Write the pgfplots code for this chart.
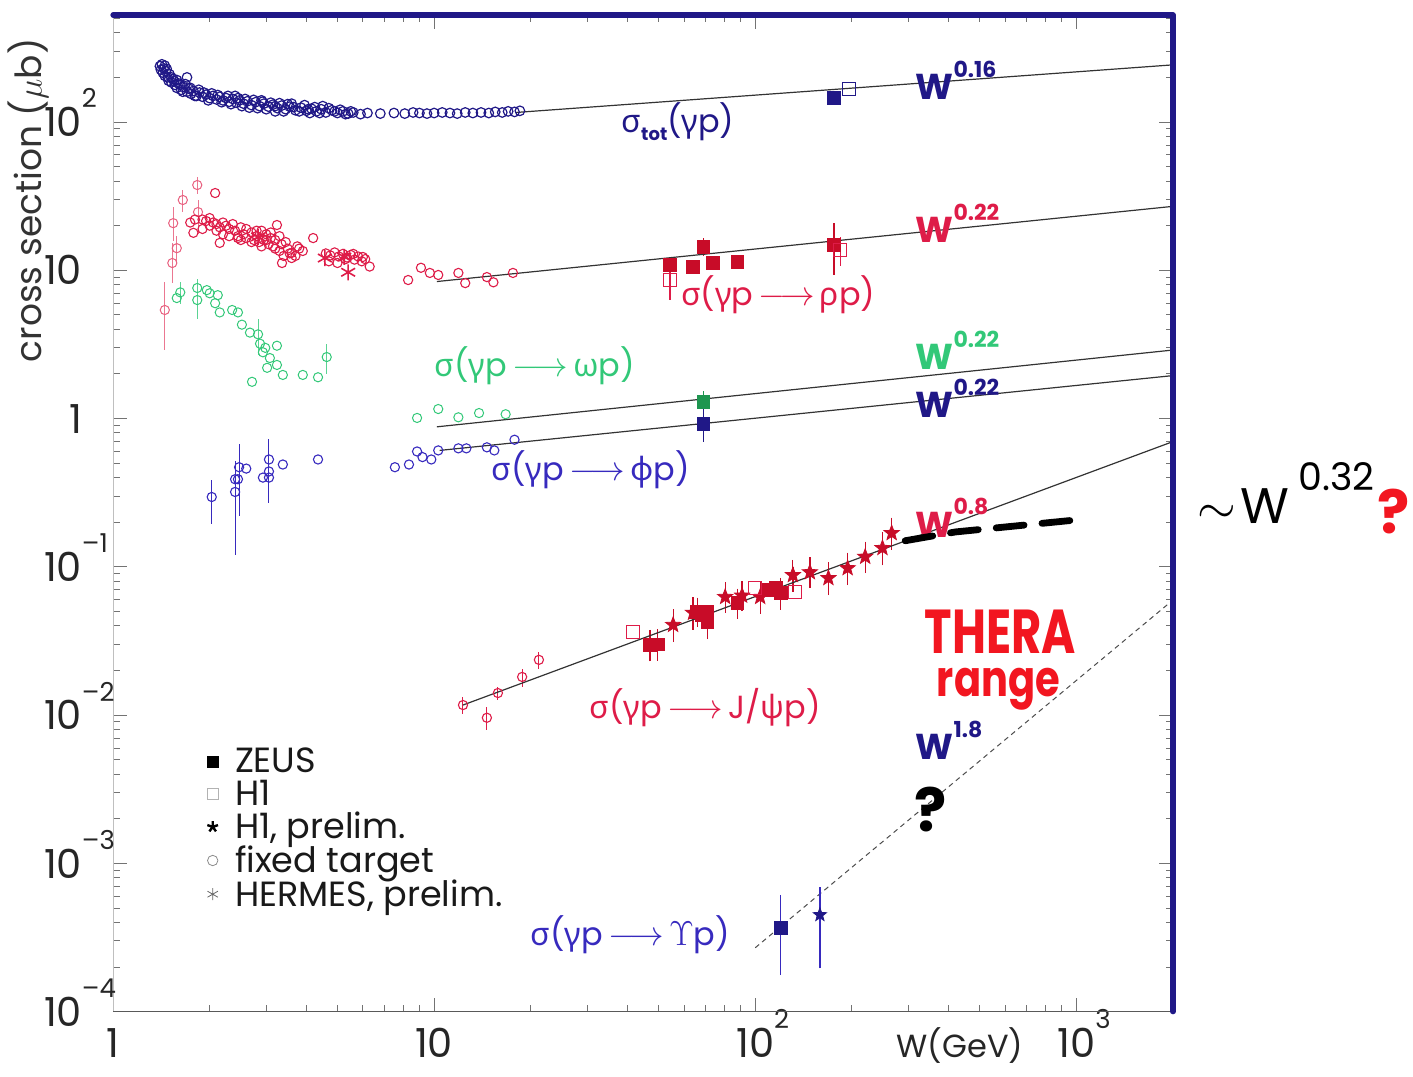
\documentclass[border=0pt]{standalone}
\usepackage{fontspec}
\usepackage{pgfplots}
\pgfplotsset{compat=1.18}
\setmainfont{Poppins}
\newfontfamily\grk{Noto Sans}

\definecolor{navy}{RGB}{32,24,135}
\definecolor{phiblue}{RGB}{55,42,190}
\definecolor{rhored}{RGB}{222,28,72}
\definecolor{zeusred}{RGB}{200,12,40}
\definecolor{omgreen}{RGB}{50,200,120}
\definecolor{omzeus}{RGB}{30,150,80}
\definecolor{thera}{RGB}{242,22,32}

% filled five-pointed star
\pgfdeclareplotmark{fstar}{%
  \pgfpathmoveto{\pgfpointpolar{90}{\pgfplotmarksize}}%
  \pgfpathlineto{\pgfpointpolar{126}{0.42\pgfplotmarksize}}%
  \pgfpathlineto{\pgfpointpolar{162}{\pgfplotmarksize}}%
  \pgfpathlineto{\pgfpointpolar{198}{0.42\pgfplotmarksize}}%
  \pgfpathlineto{\pgfpointpolar{234}{\pgfplotmarksize}}%
  \pgfpathlineto{\pgfpointpolar{270}{0.42\pgfplotmarksize}}%
  \pgfpathlineto{\pgfpointpolar{306}{\pgfplotmarksize}}%
  \pgfpathlineto{\pgfpointpolar{342}{0.42\pgfplotmarksize}}%
  \pgfpathlineto{\pgfpointpolar{18}{\pgfplotmarksize}}%
  \pgfpathlineto{\pgfpointpolar{54}{0.42\pgfplotmarksize}}%
  \pgfpathclose\pgfusepathqfillstroke}

% 10 with a hanging exponent, so that the mantissa stays centred on the tick
\newcommand{\tp}[1]{10\rlap{\smash{\raisebox{0.72em}{\fontsize{13}{13}\selectfont #1}}}}
% power-law labels
\newcommand{\Wp}[1]{\textbf{W}\raisebox{0.62em}{\fontsize{11}{11}\selectfont\bfseries #1}}
% reaction labels
\newcommand{\reac}[1]{{\grk σ}({\grk γ}p\,$\longrightarrow$\,#1p)}

\begin{document}
\begin{tikzpicture}
\begin{axis}[
  name=ax,
  xmode=log, ymode=log,
  scale only axis, width=530pt, height=498.35pt,
  xmin=1, xmax=2000, ymin=1e-4, ymax=527,
  clip=false,
  axis line style={draw=black!25, line width=0.4pt},
  tick style={draw=black!55, line width=0.5pt},
  major tick length=7pt, minor tick length=3.5pt,
  xtick={1,10,100,1000},
  xticklabels={1,10,\tp{2},\tp{3}},
  minor xtick={2,3,4,5,6,7,8,9,20,30,40,50,60,70,80,90,200,300,400,500,600,700,800,900},
  ytick={1e-4,1e-3,1e-2,1e-1,1,10,100},
  yticklabels={\tp{–4},\tp{–3},\tp{–2},\tp{–1},1,10,\tp{2}},
  minor ytick={2e-4,3e-4,4e-4,5e-4,6e-4,7e-4,8e-4,9e-4,
    2e-3,3e-3,4e-3,5e-3,6e-3,7e-3,8e-3,9e-3,
    0.02,0.03,0.04,0.05,0.06,0.07,0.08,0.09,
    0.2,0.3,0.4,0.5,0.6,0.7,0.8,0.9,
    2,3,4,5,6,7,8,9,20,30,40,50,60,70,80,90,200,300,400,500},
  xticklabel style={anchor=base, yshift=-23pt, font=\fontsize{20}{22}\selectfont, text=black!85},
  yticklabel style={anchor=east, xshift=-12pt, font=\fontsize{20}{22}\selectfont, text=black!85},
  legend style={at={(0.083,0.272)}, anchor=north west, draw=none, fill=none,
    font=\fontsize{17.5}{18}\selectfont, row sep=-1pt,
    nodes={inner sep=1.5pt}, text=black!90,
    /tikz/every odd column/.append style={column sep=7pt}},
  legend cell align=left,
  legend image code/.code={\draw[#1] plot coordinates {(0.15cm,0cm)};},
]

% ---- legend symbols
\addlegendimage{only marks, mark=square*, mark size=2.6pt, black}
\addlegendentry{ZEUS}
\addlegendimage{only marks, mark=square, mark size=2.6pt, black!30}
\addlegendentry{H1}
\addlegendimage{only marks, mark=star, mark size=2.8pt, black, line width=1.2pt}
\addlegendentry{H1, prelim.}
\addlegendimage{only marks, mark=o, mark size=2.6pt, black!45}
\addlegendentry{fixed target}
\addlegendimage{only marks, mark=asterisk, mark size=3pt, black!60}
\addlegendentry{HERMES, prelim.}

% ---- total cross section
\addplot[only marks, mark=o, mark size=2.4pt, navy, line width=0.6pt, forget plot] coordinates {
(1.40,238) (1.41,225) (1.42,245) (1.43,215) (1.44,230) (1.45,205) (1.46,220) (1.48,200)
(1.49,190) (1.50,210) (1.52,185) (1.54,195) (1.56,178) (1.58,170) (1.60,182) (1.63,165)
(1.66,172) (1.70,160) (1.70,200) (1.72,168) (1.75,155) (1.78,162) (1.82,150) (1.86,158) (1.90,148)
(1.95,153) (2.00,145) (2.05,150) (2.10,142) (2.15,148) (2.20,140) (2.25,145) (2.30,137)
(2.36,143) (2.40,150) (2.42,135) (2.48,140) (2.55,133) (2.62,138) (2.70,130) (2.78,136)
(2.86,128) (2.90,140) (2.95,133) (3.05,127) (3.15,131) (3.20,118) (3.25,124) (3.35,129)
(3.45,122) (3.55,127) (3.60,133) (3.70,120) (3.85,125) (4.00,119) (4.10,115) (4.15,123)
(4.30,118) (4.45,122) (4.50,128) (4.60,116) (4.80,120) (5.00,115) (5.20,118) (5.40,114)
(5.60,116) (5.90,113) (6.20,115) (6.80,114) (7.5,115) (8.1,114) (8.6,116) (9.0,115)
(9.5,114) (10.0,115) (10.6,116) (11.2,115) (11.8,114) (12.5,116) (13.2,115) (14.0,116)
(14.8,115) (15.5,117) (16.3,116) (17.0,118) (17.8,117) (18.5,119)
(1.45,240) (1.47,228) (1.52,200) (1.55,188) (1.58,192) (1.62,178) (1.65,160) (1.68,180)
(1.74,170) (1.80,150) (1.85,165) (1.92,158) (1.98,140) (2.03,156) (2.12,152) (2.18,136)
(2.28,150) (2.33,132) (2.45,145) (2.52,128) (2.58,143) (2.66,125) (2.74,141) (2.82,124)
(2.92,137) (3.0,122) (3.1,135) (3.2,128) (3.3,134) (3.4,118) (3.5,132) (3.65,126)
(3.8,118) (3.95,130) (4.05,122) (4.25,126) (4.4,115) (4.7,124) (4.9,118) (5.1,121)
(5.3,113) (5.5,118)
};
\addplot[only marks, mark=square*, mark size=3.2pt, navy, forget plot] coordinates {(176,145)};
\addplot[only marks, mark=square, mark size=3.2pt, navy, line width=0.6pt, forget plot] coordinates {(196,167)};
\addplot[black!80, line width=0.6pt, forget plot] coordinates {(18,116) (2000,243)};

% ---- rho
\addplot[only marks, mark=o, mark size=2.3pt, rhored!70, line width=0.5pt, forget plot,
  error bars/.cd, y dir=both, y explicit, error mark=none,
  error bar style={rhored!60, line width=0.5pt}] coordinates {
(1.45,5.4) += (0,3) -= (0,2.5)
(1.53,11.2) += (0,4) -= (0,3)
(1.54,20.8) += (0,6) -= (0,5)
(1.58,14.1) += (0,3) -= (0,3)
(1.65,29.8) += (0,5) -= (0,5)
(1.84,24.7) += (0,5) -= (0,7)
(1.83,37.6) += (0,5) -= (0,5)
};
\addplot[only marks, mark=o, mark size=2.3pt, rhored, line width=0.55pt, forget plot] coordinates {
(2.08,33.2) (1.78,17.9) (1.74,21) (1.80,22) (1.90,22) (1.95,21.5) (2.0,22.5) (2.05,21)
(2.1,20.5) (2.15,19.5) (2.2,17.5) (2.25,20) (2.3,19) (2.36,20.5) (2.4,18.5) (2.45,17)
(2.5,19.5) (2.55,17.5) (2.6,16.5) (2.7,18) (2.75,16) (2.8,17) (2.85,15.5) (2.9,18.5)
(2.95,16) (3.0,17.5) (3.05,15) (3.1,16.5) (3.15,14.5) (3.2,16) (3.3,13.5) (3.35,15)
(3.4,12.5) (3.5,14) (3.6,13.1) (3.75,14.5) (3.9,13.5) (2.15,15.3) (2.45,16.5) (3.24,20.2)
(3.36,11.2) (3.6,12.1) (4.2,16.5)
(1.9,19) (2.0,20) (2.1,18.5) (2.2,21) (2.3,17) (2.5,16) (2.6,19) (2.7,15.5) (2.8,18.5)
(2.9,14.5) (3.0,16) (3.1,18) (3.2,14) (3.3,17) (3.45,15.5) (3.55,13) (3.7,12.5) (3.8,14)
(4.6,13.0) (4.75,12.6) (4.9,13.2) (5.05,12.4) (5.2,12.9) (5.35,12.2) (5.5,12.7)
(5.65,11.8) (5.8,12.4) (5.95,11.5) (6.1,11.9) (6.3,10.6)
(4.7,11.5) (5.0,11.2) (5.3,11.9) (5.6,12.9) (6.0,12.3)
(8.3,8.6) (9.1,10.4) (9.7,9.6) (10.3,9.3) (11.9,9.6) (12.5,8.2) (14.6,9.0) (15.3,8.3) (17.6,9.6)
};
\addplot[only marks, mark=asterisk, mark size=4pt, rhored, line width=0.8pt, forget plot] coordinates {
(2.83,16.8) (4.57,12.1) (5.25,12.3) (5.4,9.7)
};
\addplot[only marks, mark=square*, mark size=3.2pt, zeusred, forget plot,
  error bars/.cd, y dir=both, y explicit, error mark=none,
  error bar style={zeusred, line width=0.6pt}] coordinates {
(54.3,10.9) (64,10.6) (69,14.4) += (0,2) -= (0,2) (74,11.2) (88,11.4)
(176,14.8) += (0,6) -= (0,5.5)
};
\addplot[only marks, mark=square, mark size=3.2pt, rhored, line width=0.6pt, forget plot,
  error bars/.cd, y dir=both, y explicit, error mark=none,
  error bar style={rhored, line width=0.6pt}] coordinates {
(54.3,8.6) += (0,2) -= (0,2.3) (184,13.7) += (0,3) -= (0,3)
};
\addplot[black!80, line width=0.6pt, forget plot] coordinates {(10.2,8.4) (2000,27)};

% ---- omega
\addplot[only marks, mark=o, mark size=2.3pt, omgreen, line width=0.5pt, forget plot,
  error bars/.cd, y dir=both, y explicit, error mark=none,
  error bar style={omgreen!80, line width=0.5pt}] coordinates {
(1.62,7.1) += (0,1.2) -= (0,1.2) (1.58,6.5) (1.83,7.6) += (0,1.2) -= (0,1.2)
(1.83,6.3) += (0,1.5) -= (0,1.6) (1.96,7.35) (2.0,7.0) (2.12,6.8) (2.08,6.0) (2.15,5.2)
(2.35,5.4) (2.45,5.2) (2.52,4.3) (2.67,3.8) (2.83,3.7) += (0,1) -= (0,1)
(2.87,3.2) (2.93,2.8) (2.98,3.0) (3.08,2.56) (3.24,3.1) (3.24,2.3) (3.02,2.2)
(3.38,1.97) (2.71,1.77) (3.9,1.97) (4.35,1.9) (4.63,2.6) += (0,0.6) -= (0,0.6)
(8.85,1.01) (10.3,1.16) (11.9,1.02) (13.8,1.09) (16.7,1.07)
};
\addplot[only marks, mark=square*, mark size=3.2pt, omzeus, forget plot,
  error bars/.cd, y dir=both, y explicit, error mark=none,
  error bar style={omzeus, line width=0.6pt}] coordinates {(69,1.29) += (0,0.25) -= (0,0.2)};
\addplot[black!80, line width=0.6pt, forget plot] coordinates {(10.2,0.88) (2000,2.9)};

% ---- phi
\addplot[only marks, mark=o, mark size=2.3pt, phiblue, line width=0.55pt, forget plot,
  error bars/.cd, y dir=both, y explicit, error mark=none,
  error bar style={phiblue, line width=0.5pt}] coordinates {
(2.03,0.296) += (0,0.09) -= (0,0.1)
(2.40,0.39) (2.40,0.32) += (0,0.2) -= (0,0.2) (2.45,0.39) (2.47,0.47) += (0,0.2) -= (0,0.25)
(2.60,0.46) (2.93,0.40) (3.06,0.53) += (0,0.2) -= (0,0.1) (3.06,0.44) (3.06,0.40) += (0,0.1) -= (0,0.13)
(3.38,0.49) (4.35,0.53)
(7.55,0.47) (8.35,0.49) (8.85,0.60) (9.2,0.55) (9.8,0.53) (10.3,0.61) (11.9,0.63)
(12.6,0.63) (14.6,0.64) (15.4,0.61) (17.8,0.72)
};
\addplot[only marks, mark=square*, mark size=3.2pt, navy, forget plot,
  error bars/.cd, y dir=both, y explicit, error mark=none,
  error bar style={navy, line width=0.6pt}] coordinates {(69,0.92) += (0,0.25) -= (0,0.22)};
\addplot[black!80, line width=0.6pt, forget plot] coordinates {(10.4,0.61) (2000,1.95)};

% ---- J/psi
\addplot[only marks, mark=o, mark size=2.3pt, rhored, line width=0.55pt, forget plot,
  error bars/.cd, y dir=both, y explicit, error mark=none,
  error bar style={rhored, line width=0.5pt}] coordinates {
(12.3,0.0117) +- (0,0.0015) (14.6,0.0096) +- (0,0.0017) (15.8,0.0141) +- (0,0.0015)
(18.8,0.0181) +- (0,0.0025) (21.2,0.0236) +- (0,0.003)
};
\addplot[only marks, mark=fstar, mark size=4pt, zeusred, line width=0.4pt, forget plot,
  error bars/.cd, y dir=both, y explicit, error mark=-, error mark options={mark size=3.5pt, line width=0.6pt},
  error bar style={zeusred, line width=0.6pt}] coordinates {
(55.5,0.0406) +- (0,0.006) (64,0.049) +- (0,0.007) (80.6,0.0627) +- (0,0.008)
(91,0.064) +- (0,0.008) (103.6,0.0627) +- (0,0.009) (131,0.088) +- (0,0.012)
(148,0.092) +- (0,0.012) (169,0.084) +- (0,0.012) (194,0.098) +- (0,0.014)
(220,0.117) +- (0,0.016) (249,0.134) +- (0,0.02) (266,0.169) +- (0,0.024)
};
\addplot[only marks, mark=square*, mark size=3.2pt, zeusred, forget plot,
  error bars/.cd, y dir=both, y explicit, error mark=-, error mark options={mark size=3.5pt, line width=0.6pt},
  error bar style={zeusred, line width=0.6pt}] coordinates {
(47,0.0297) +- (0,0.004) (49.7,0.030) +- (0,0.004) (66,0.0497) +- (0,0.006)
(68,0.047) (71,0.050) (71,0.0423) +- (0,0.006) (88,0.057) +- (0,0.007)
(110,0.0698) (116,0.072) (120,0.0665) +- (0,0.009)
};
\addplot[only marks, mark=square, mark size=3.2pt, rhored, line width=0.6pt, forget plot] coordinates {
(41.7,0.0364) (100,0.072) (133,0.068)
};
\addplot[black!80, line width=0.6pt, forget plot] coordinates {(12.3,0.0117) (2000,0.70)};

% ---- Upsilon
\addplot[black!70, line width=0.5pt, dash pattern=on 2.5pt off 2pt, forget plot] coordinates {(100,2.7e-4) (2000,0.0598)};
\addplot[only marks, mark=square*, mark size=3.2pt, navy, forget plot,
  error bars/.cd, y dir=both, y explicit, error mark=-, error mark options={mark size=4pt, line width=0.6pt},
  error bar style={phiblue, line width=0.6pt}] coordinates {(120,3.67e-4) += (0,1.75e-4) -= (0,1.67e-4)};
\addplot[only marks, mark=fstar, mark size=3.5pt, navy, line width=0.4pt, forget plot,
  error bars/.cd, y dir=both, y explicit, error mark=-, error mark options={mark size=1.5pt, line width=0.6pt},
  error bar style={phiblue, line width=0.6pt}] coordinates {(159,4.5e-4) += (0,2.1e-4) -= (0,2.45e-4)};

% ---- labels
\node[text=navy, font=\fontsize{16}{18}\selectfont] at (axis cs:57.5,100)
  {{\grk σ}\raisebox{-0.25em}{\fontsize{9}{9}\selectfont\bfseries tot}({\grk γ}p)};
\node[text=navy, anchor=base west, inner sep=0pt, font=\fontsize{18}{18}\selectfont] at (axis cs:315,141) {\Wp{0.16}};
\node[text=rhored, font=\fontsize{16}{18}\selectfont] at (axis cs:118,6.8) {\reac{{\grk ρ}}};
\node[text=rhored, anchor=base west, inner sep=0pt, font=\fontsize{18}{18}\selectfont] at (axis cs:315,15.3) {\Wp{0.22}};
\node[text=omgreen, font=\fontsize{16}{18}\selectfont] at (axis cs:20.6,2.27) {\reac{{\grk ω}}};
\node[text=omgreen, anchor=base west, inner sep=0pt, font=\fontsize{18}{18}\selectfont] at (axis cs:315,2.13) {\Wp{0.22}};
\node[text=navy, anchor=base west, inner sep=0pt, font=\fontsize{18}{18}\selectfont] at (axis cs:315,1.01) {\Wp{0.22}};
\node[text=phiblue, font=\fontsize{16}{18}\selectfont] at (axis cs:30.7,0.45) {\reac{{\grk ϕ}}};
\node[text=rhored, anchor=base west, inner sep=0pt, font=\fontsize{18}{18}\selectfont] at (axis cs:315,0.159) {\Wp{0.8}};
\node[text=rhored, font=\fontsize{16}{18}\selectfont] at (axis cs:69.8,0.0112) {\reac{J/{\grk ψ}}};
\node[text=navy, anchor=base west, inner sep=0pt, font=\fontsize{18}{18}\selectfont] at (axis cs:315,5.0e-3) {\Wp{1.8}};
\node[text=phiblue, font=\fontsize{16}{18}\selectfont] at (axis cs:40.8,3.3e-4) {\reac{$\Upsilon$}};
\node[black, font=\fontsize{30}{30}\selectfont\bfseries] at (axis cs:351,2.3e-3) {?};
\node[text=thera, anchor=base, inner sep=0pt, font=\fontsize{31}{31}\selectfont\bfseries] at (axis cs:580,0.0262) {\scalebox{0.75}[1]{THERA}};
\node[text=thera, anchor=base, inner sep=0pt, font=\fontsize{25}{25}\selectfont\bfseries] at (axis cs:572,0.0134) {\scalebox{0.8}[1]{range}};

% hand-drawn extrapolation of the J/psi rise
\addplot[black, line width=3.4pt, line cap=round, dash pattern=on 14pt off 9pt, forget plot]
  coordinates {(293,0.150) (420,0.172) (993,0.207)};

% axis title and unit labels
\node[rotate=90, font=\fontsize{18}{20}\selectfont, text=black!80] at (rel axis cs:-0.080,0.814) {cross section ($\mu$b)};
\node[anchor=base, yshift=-23pt, font=\fontsize{16}{18}\selectfont, text=black!85] at (rel axis cs:0.799,0) {W(GeV)};
\node[anchor=base east, inner sep=0pt, font=\fontsize{25}{25}\selectfont] at (rel axis cs:1.060,0.4902) {$\sim$};
\node[anchor=base west, inner sep=0pt, font=\fontsize{25}{25}\selectfont] at (rel axis cs:1.0632,0.4902) {W};
\node[anchor=base west, inner sep=0pt, font=\fontsize{19}{19}\selectfont] at (rel axis cs:1.1179,0.5233) {0.32};
\node[anchor=base east, inner sep=0pt, text=thera, font=\fontsize{30}{30}\selectfont\bfseries] at (rel axis cs:1.2236,0.480) {?};

% frame
\draw[black!65, line width=0.7pt] (rel axis cs:0,0) -- (rel axis cs:1,0);
\draw[navy, line width=2.6pt, line cap=round, line join=round] (rel axis cs:0,1) -- (rel axis cs:1,1) -- (rel axis cs:1,0);
\end{axis}
\pgfresetboundingbox
\path[use as bounding box] ([shift={(-56.5pt,-32.15pt)}]ax.south west) rectangle ([shift={(120pt,7.5pt)}]ax.north east);
\end{tikzpicture}
\end{document}
